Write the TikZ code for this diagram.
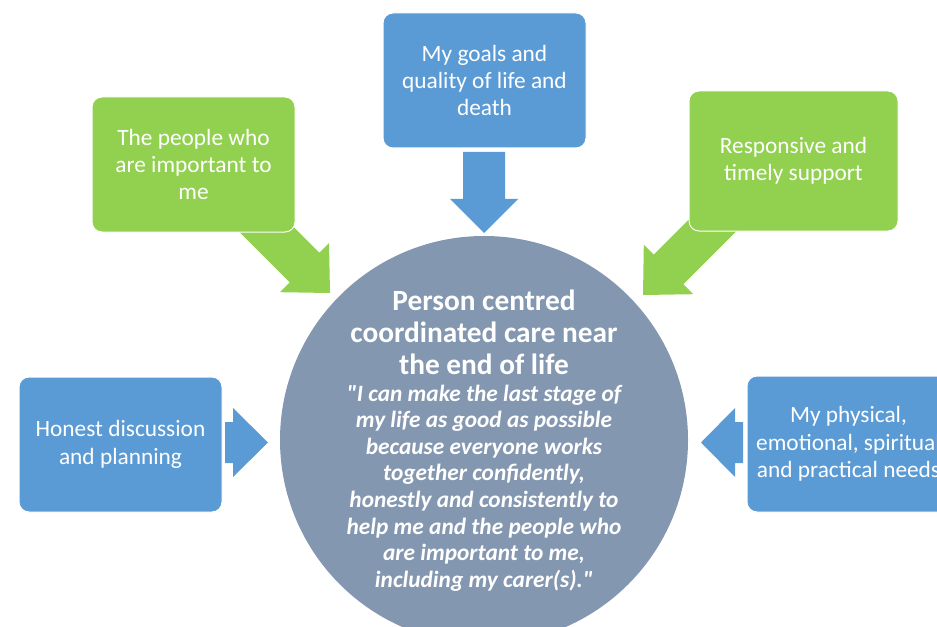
\documentclass[tikz,border=0pt]{standalone}
\usepackage{fontspec}
\setmainfont{Carlito}[Ligatures=TeXOff]
\definecolor{cblue}{HTML}{5B9BD5}
\definecolor{cgreen}{HTML}{92D050}
\definecolor{chub}{HTML}{8497B0}
\begin{document}
\begin{tikzpicture}[x=0.75pt,y=-0.75pt,
  box/.style={rounded corners=7.5pt, draw=white, line width=0.75pt, text=white,
    align=center, minimum width=203*0.75pt, minimum height=135*0.75pt, inner sep=0pt,
    font=\fontsize{17.5}{20.5}\selectfont},
  bluebox/.style={box, fill=cblue},
  greenbox/.style={box, fill=cgreen},
  bluearrow/.style={fill=cblue},
  greenarrow/.style={fill=cgreen},
  hub/.style={circle, fill=chub, minimum size=408*0.75pt, inner sep=0pt},
  hubtitle/.style={text=white, align=center, inner sep=0pt, font=\fontsize{22}{24}\selectfont\bfseries},
  hubquote/.style={text=white, align=center, inner sep=0pt, font=\fontsize{17.5}{19.9}\selectfont\bfseries\itshape}]
\clip (0,0) rectangle (937,627);
\fill[white] (0,0) rectangle (937,627);

% block arrows
\fill[bluearrow] (463,152) -- (505,152) -- (505,199) -- (518,199) -- (484,233) -- (450,199) -- (463,199) -- cycle;
\fill[bluearrow] (225,422) -- (233,422) -- (233,408) -- (268,442.5) -- (233,477) -- (233,463) -- (225,463) -- cycle;
\fill[bluearrow] (743,422) -- (735,422) -- (735,408) -- (701,442.5) -- (735,477) -- (735,463) -- (743,463) -- cycle;
\fill[greenarrow] (248.6,182) -- (319.3,252.7) -- (329,243) -- (330,293) -- (279.8,292.2) -- (289.7,282.3) -- (219,211.6) -- cycle;
\fill[greenarrow] (653.7,254.7) -- (731.4,176.8) -- (761.1,206.5) -- (683.3,284.3) -- (693.2,294.2) -- (643,295) -- (643.8,244.8) -- cycle;

% boxes
\node[bluebox] (goals) at (484.5,80.5) {My goals and\\quality of life and\\death};
\node[greenbox] (people) at (193.5,164.5) {The people who\\are important to\\me};
\node[greenbox, minimum width=209*0.75pt, minimum height=140*0.75pt] (support) at (793.5,161) {Responsive and\\timely support};
\node[bluebox] (honest) at (120.5,444.5) {Honest discussion\\and planning};
\node[bluebox, minimum height=136*0.75pt] (needs) at (848.5,444) {My physical,\\emotional, spiritual\\and practical needs};

% hub
\node[hub] (hub) at (484,440) {};
\node[hubtitle] (title) at (484,332) {Person centred\\coordinated care near\\the end of life};
\node[hubquote] (quote) at (484,488) {"I can make the last stage of\\my life as good as possible\\because everyone works\\together confidently,\\honestly and consistently to\\help me and the people who\\are important to me,\\including my carer(s)."};
\end{tikzpicture}
\end{document}
